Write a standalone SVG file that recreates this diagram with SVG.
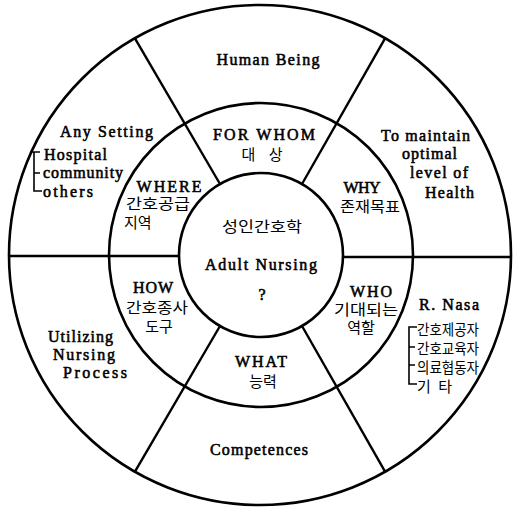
<svg xmlns="http://www.w3.org/2000/svg" width="513" height="507" viewBox="0 0 513 507">
<style>
.ring{fill:none;stroke:#000;stroke-width:2.6}
.spoke{stroke:#000;stroke-width:2.4;fill:none}
.br{stroke:#000;stroke-width:1.6;fill:none}
.en{font-family:"Liberation Serif",serif;font-weight:normal;font-size:16px;fill:#000;stroke:#000;stroke-width:0.55}
.ko{font-family:"Noto Sans CJK KR",sans-serif;font-size:15px;fill:#000}
.c{text-anchor:middle}
</style>
<rect width="513" height="507" fill="#fff"/>
<g id="rings">
<ellipse class="ring" cx="260" cy="255" rx="251" ry="250"/>
<circle class="ring" cx="261" cy="255" r="152"/>
<circle class="ring" cx="261" cy="255" r="82"/>
</g>
<g id="connectors">
<line class="spoke" x1="385.5" y1="37.6" x2="302" y2="184"/>
<line class="spoke" x1="134.5" y1="37.6" x2="220" y2="184"/>
<line class="spoke" x1="134.5" y1="472.4" x2="220" y2="326"/>
<line class="spoke" x1="385.5" y1="472.4" x2="302" y2="326"/>
<line class="spoke" x1="9" y1="256" x2="179" y2="256"/>
<line class="spoke" x1="343" y1="257" x2="511" y2="257"/>
</g>
<g id="center">
<text class="ko c" x="262" y="232" textLength="80" lengthAdjust="spacingAndGlyphs">성인간호학</text>
<text class="en c" x="261" y="270" textLength="112">Adult Nursing</text>
<text class="en c" x="262" y="300">?</text>
</g>
<g id="for-whom">
<text class="en c" x="264" y="140" textLength="102">FOR WHOM</text>
<text class="ko c" x="262" y="160" textLength="41" lengthAdjust="spacing">대 상</text>
</g>
<g id="why">
<text class="en c" x="362" y="193" textLength="37">WHY</text>
<text class="ko c" x="370" y="212" textLength="60" lengthAdjust="spacingAndGlyphs">존재목표</text>
</g>
<g id="who">
<text class="en c" x="371" y="297" textLength="42">WHO</text>
<text class="ko c" x="366" y="315" textLength="64" lengthAdjust="spacingAndGlyphs">기대되는</text>
<text class="ko c" x="361" y="333">역할</text>
</g>
<g id="what">
<text class="en c" x="261" y="367" textLength="52">WHAT</text>
<text class="ko c" x="263" y="387">능력</text>
</g>
<g id="how">
<text class="en c" x="153" y="293" textLength="40">HOW</text>
<text class="ko c" x="157" y="313" textLength="62" lengthAdjust="spacingAndGlyphs">간호종사</text>
<text class="ko c" x="159" y="332">도구</text>
</g>
<g id="where">
<text class="en c" x="169" y="192" textLength="65">WHERE</text>
<text class="ko c" x="158" y="209" textLength="64" lengthAdjust="spacingAndGlyphs">간호공급</text>
<text class="ko" x="124" y="228">지역</text>
</g>
<g id="human-being">
<text class="en c" x="268" y="65" textLength="103">Human Being</text>
</g>
<g id="maintain">
<text class="en" x="381" y="141" textLength="89">To maintain</text>
<text class="en" x="402" y="159" textLength="55">optimal</text>
<text class="en" x="410" y="178" textLength="58">level of</text>
<text class="en" x="425" y="198" textLength="49">Health</text>
</g>
<g id="nasa">
<text class="en" x="419" y="310" textLength="60">R. Nasa</text>
<path class="br" d="M417 327 H409 V384 H417 M409 347 H415 M409 365 H415"/>
<text class="ko" x="417" y="335" textLength="62" lengthAdjust="spacingAndGlyphs">간호제공자</text>
<text class="ko" x="417" y="354" textLength="62" lengthAdjust="spacingAndGlyphs">간호교육자</text>
<text class="ko" x="417" y="373" textLength="62" lengthAdjust="spacingAndGlyphs">의료협동자</text>
<text class="ko" x="417" y="392" textLength="35" lengthAdjust="spacing">기 타</text>
</g>
<g id="competences">
<text class="en c" x="259" y="455" textLength="98">Competences</text>
</g>
<g id="nursing-process">
<text class="en" x="48" y="342" textLength="65">Utilizing</text>
<text class="en" x="53" y="360" textLength="62">Nursing</text>
<text class="en" x="63" y="378" textLength="64">Process</text>
</g>
<g id="any-setting">
<text class="en" x="60" y="137" textLength="93">Any Setting</text>
<path class="br" d="M31 152 H40 M34 152 V191 H42 M34 173 H40"/>
<text class="en" x="44" y="160" textLength="63">Hospital</text>
<text class="en" x="43" y="178" textLength="80">community</text>
<text class="en" x="43" y="197" textLength="50">others</text>
</g>
</svg>
